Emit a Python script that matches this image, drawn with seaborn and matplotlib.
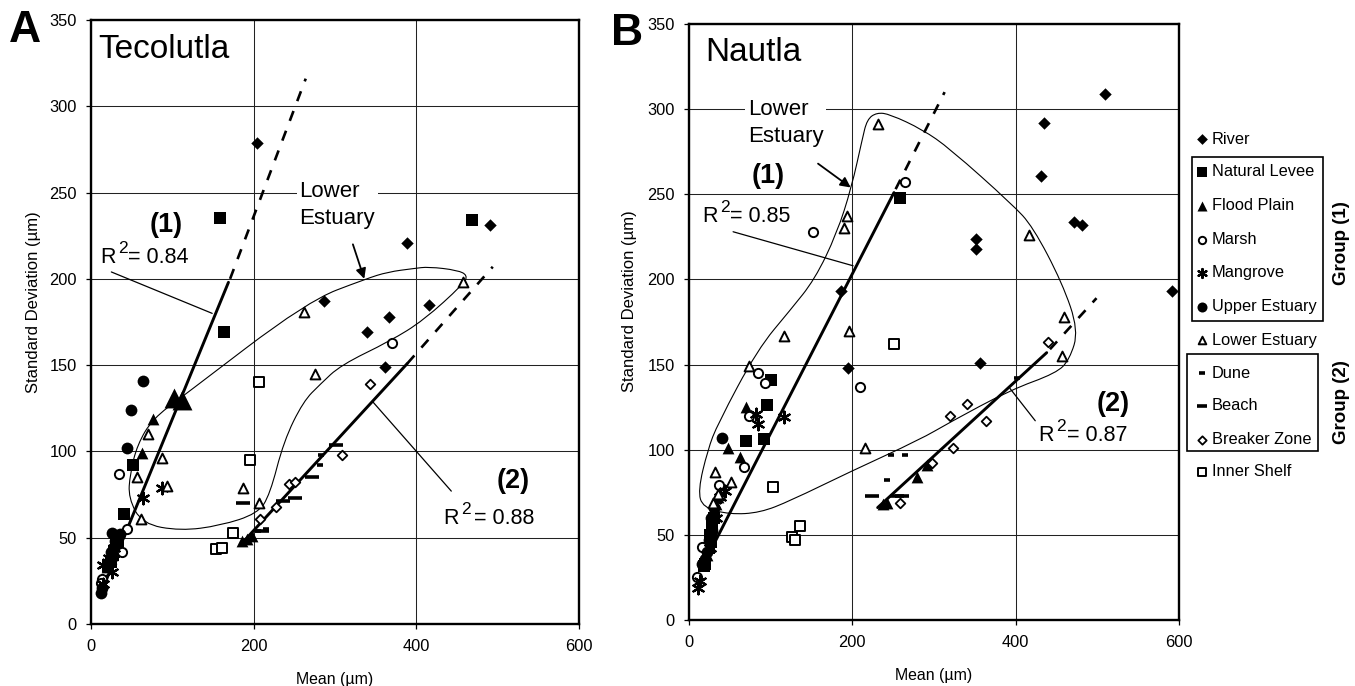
import matplotlib
matplotlib.use("Agg")
import matplotlib.pyplot as plt
import seaborn as sns
from matplotlib.patches import PathPatch, Rectangle
from matplotlib.path import Path

W, H = 1355, 686

# panel A - Tecolutla
a_river_x = [204, 389, 491, 287, 416, 366, 339, 361]
a_river_y = [279, 221, 231, 187, 185, 178, 169, 149]
a_levee_x = [158, 469, 163, 52, 41, 31, 33, 27, 28, 25]
a_levee_y = [235, 234, 169, 92, 64, 46, 48, 40, 42, 36]
a_flood_x = [76, 63, 29, 32, 26, 24, 20, 186, 192, 198]
a_flood_y = [119, 99, 43, 48, 40, 38, 33, 48, 49, 51]
a_flood_big_x = [102, 112]
a_flood_big_y = [131, 130]
a_marsh_x = [35, 44, 38, 13, 12, 370]
a_marsh_y = [87, 55, 42, 26, 24, 163]
a_mangrove_x = [64, 87, 15, 26, 15, 22, 28]
a_mangrove_y = [73, 79, 34, 30, 23, 38, 44]
a_upper_x = [64, 49, 44, 26, 36, 30, 24, 22, 12, 13]
a_upper_y = [141, 124, 102, 53, 52, 48, 42, 36, 18, 21]
a_lower_x = [262, 276, 457, 70, 87, 93, 56, 61, 187, 207]
a_lower_y = [181, 145, 198, 110, 96, 80, 85, 61, 79, 70]
a_dune_x = [205, 215, 283, 281]
a_dune_y = [54, 55, 98, 92]
a_beach_x = [187, 210, 236, 251, 272, 301]
a_beach_y = [70, 54, 71, 73, 85, 104]
a_breaker_x = [208, 228, 243, 251, 309, 343]
a_breaker_y = [61, 68, 81, 82, 98, 139]
a_shelf_x = [206, 195, 175, 154, 161]
a_shelf_y = [140, 95, 53, 43.5, 44]

# panel B - Nautla
b_river_x = [509, 435, 431, 472, 481, 351, 352, 592, 356, 186, 195]
b_river_y = [309, 292, 261, 234, 232, 224, 218, 193, 151, 193, 148]
b_levee_x = [258, 100, 95, 70, 92, 30, 26, 28, 27, 24, 20, 18]
b_levee_y = [248, 141, 126, 105, 106, 60, 50, 56, 46, 42, 33, 32]
b_flood_x = [70, 48, 62, 30, 33, 35, 28, 27, 24, 22, 237, 243, 279, 292]
b_flood_y = [125, 101, 96, 62, 68, 72, 57, 53, 45, 38, 68, 69, 84, 91]
b_marsh_x = [265, 152, 209, 84, 93, 73, 67, 37, 16, 10]
b_marsh_y = [257, 228, 137, 145, 139, 120, 90, 79, 43, 25]
b_mangrove_x = [116, 82, 84, 44, 38, 33, 26, 11, 14]
b_mangrove_y = [119, 121, 115, 76, 72, 60, 42, 19, 23]
b_upper_x = [41, 30, 27, 28, 25, 22, 20, 16]
b_upper_y = [107, 66, 60, 52, 47, 40, 36, 33]
b_lower_x = [232, 193, 190, 196, 116, 416, 459, 457, 73, 215, 32, 52, 29, 36]
b_lower_y = [291, 237, 230, 170, 167, 226, 178, 155, 149, 101, 87, 81, 69, 74]
b_dune_x = [247, 264, 242, 402]
b_dune_y = [97, 97, 82, 142]
b_beach_x = [224, 261, 255]
b_beach_y = [73, 73, 73]
b_breaker_x = [258, 298, 323, 319, 341, 364, 440]
b_breaker_y = [69, 92, 101, 120, 127, 117, 163]
b_shelf_x = [251, 103, 136, 126, 130]
b_shelf_y = [162, 78, 55, 49, 47]

# regression lines, solid part then dashed part
a_fit1_x = [14, 169]
a_fit1_y = [20, 198]
a_fit1_dash_x = [171, 264]
a_fit1_dash_y = [200, 316]
a_fit2_x = [186, 389]
a_fit2_y = [47, 151]
a_fit2_dash_x = [389, 494]
a_fit2_dash_y = [151, 207]
b_fit1_x = [17, 251]
b_fit1_y = [32, 251]
b_fit1_dash_x = [253, 313]
b_fit1_dash_y = [253, 310]
b_fit2_x = [231, 438]
b_fit2_y = [66, 157]
b_fit2_dash_x = [442, 499]
b_fit2_dash_y = [159, 189]

# hand drawn lower estuary outlines
a_loop_x = [463, 451, 415, 397, 365, 338, 266, 113, 76, 57, 48, 46, 63, 110, 159, 205, 220, 237, 261, 282, 307, 368, 409, 458]
a_loop_y = [202, 205, 207, 206, 204, 200, 187, 132, 119, 104, 87, 73, 58, 54, 57, 64, 75, 106, 129, 139, 150, 164, 176, 197]
b_loop_x = [84, 35, 23, 11, 17, 50, 87, 124, 197, 283, 319, 393, 450, 466, 477, 457, 421, 396, 319, 286, 246, 230, 218, 212, 199, 181, 154, 124]
b_loop_y = [159, 115, 100, 76, 66, 62, 63, 70, 87, 106, 116, 135, 145, 153, 170, 198, 231, 244, 277, 288, 297, 298, 294, 282, 254, 227, 200, 182]

legend_names = ["River", "Natural Levee", "Flood Plain", "Marsh", "Mangrove", "Upper Estuary",
                "Lower Estuary", "Dune", "Beach", "Breaker Zone", "Inner Shelf"]
x_ticks = [0, 200, 400, 600]
y_ticks = [0, 50, 100, 150, 200, 250, 300, 350]

# site -> marker, size, filled, edge width
site_styles = {
    "River": ("D", 40, True, 0),
    "Natural Levee": ("s", 80, True, 0),
    "Flood Plain": ("^", 72, True, 0),
    "Marsh": ("o", 44, False, 1.4),
    "Mangrove": ((6, 2, 0), 70, True, 1.6),
    "Upper Estuary": ("o", 72, True, 0),
    "Lower Estuary": ("^", 50, False, 1.4),
    "Dune": ("_", 25, True, 2.6),
    "Beach": ("_", 100, True, 2.6),
    "Breaker Zone": ("D", 24, False, 1.3),
    "Inner Shelf": ("s", 55, False, 1.4),
}

sns.set_theme(style="white")
plt.rcParams['font.family'] = ['Liberation Sans', 'DejaVu Sans']
plt.rcParams['axes.edgecolor'] = 'black'
plt.rcParams['text.color'] = 'black'
plt.rcParams['axes.labelcolor'] = 'black'
plt.rcParams['xtick.color'] = 'black'
plt.rcParams['ytick.color'] = 'black'


def draw_site(ax, name, x, y, size=None):
    marker, s, filled, lw = site_styles[name]
    s = size if size else s
    face = 'black' if filled else 'white'
    sns.scatterplot(x=x, y=y, ax=ax, marker=marker, s=s, color=face, edgecolor='black',
                    linewidth=lw, zorder=4, clip_on=False, legend=False)


def draw_loop(ax, xs, ys):
    # closed smooth outline, the points act as bezier controls
    pts = list(zip(xs, ys))
    mid = lambda p, q: ((p[0] + q[0]) / 2, (p[1] + q[1]) / 2)
    verts = [mid(pts[-1], pts[0])]
    codes = [Path.MOVETO]
    for i, p in enumerate(pts):
        verts += [p, mid(p, pts[(i + 1) % len(pts)])]
        codes += [Path.CURVE3, Path.CURVE3]
    ax.add_patch(PathPatch(Path(verts, codes), fill=False, lw=0.8, ec='black', zorder=3))


def draw_fit(ax, x, y, dash_x, dash_y):
    sns.lineplot(x=x, y=y, ax=ax, color='black', lw=2.1, zorder=3, estimator=None, sort=False)
    sns.lineplot(x=dash_x, y=dash_y, ax=ax, color='black', lw=1.9, zorder=3, estimator=None, sort=False,
                 linestyle=(0, (4, 4)))


def draw_r2(ax, x, y, value, gap=28):
    ax.text(x, y, "R", fontsize=15.5, va='baseline', zorder=5)
    ax.annotate("2", (x, y), xytext=(18, 10), textcoords='offset pixels', fontsize=12.5, va='baseline', zorder=5)
    ax.annotate("= " + value, (x, y), xytext=(gap, 0), textcoords='offset pixels', fontsize=15.5, va='baseline', zorder=5)


def setup_axes(px_left, px_right, px_top, px_bottom, label_x, label_y):
    ax = fig.add_axes([px_left / W, 1 - px_bottom / H, (px_right - px_left) / W, (px_bottom - px_top) / H])
    ax.set_xlim(0, 600)
    ax.set_ylim(0, 350)
    ax.set_xticks(x_ticks)
    ax.set_yticks(y_ticks)
    ax.grid(True, color='#222222', lw=0.75)
    ax.set_axisbelow(True)
    ax.tick_params(axis='y', labelsize=11.8, length=3.6, width=0.9, left=True, pad=6.5)
    ax.tick_params(axis='x', labelsize=11.8, length=3.6, width=0.9, bottom=True, pad=7)
    for side in ax.spines:
        ax.spines[side].set_visible(True)
        ax.spines[side].set_linewidth(1.7)
    ax.set_xlabel("Mean (µm)", fontsize=11.4, labelpad=13)
    ax.set_ylabel("Standard Deviation (µm)", fontsize=12)
    ax.yaxis.set_label_coords(label_x, label_y)
    return ax


fig = plt.figure(figsize=(W / 100, H / 100), dpi=100)

ax_a = setup_axes(91, 579, 20, 624, -0.102, 0.533)
ax_b = setup_axes(689, 1179, 24, 620, -0.106, 0.535)

draw_loop(ax_a, a_loop_x, a_loop_y)
draw_loop(ax_b, b_loop_x, b_loop_y)
draw_fit(ax_a, a_fit1_x, a_fit1_y, a_fit1_dash_x, a_fit1_dash_y)
draw_fit(ax_a, a_fit2_x, a_fit2_y, a_fit2_dash_x, a_fit2_dash_y)
draw_fit(ax_b, b_fit1_x, b_fit1_y, b_fit1_dash_x, b_fit1_dash_y)
draw_fit(ax_b, b_fit2_x, b_fit2_y, b_fit2_dash_x, b_fit2_dash_y)

draw_site(ax_a, "River", a_river_x, a_river_y)
draw_site(ax_a, "Natural Levee", a_levee_x, a_levee_y)
draw_site(ax_a, "Flood Plain", a_flood_x, a_flood_y)
draw_site(ax_a, "Flood Plain", a_flood_big_x, a_flood_big_y, size=205)
draw_site(ax_a, "Marsh", a_marsh_x, a_marsh_y)
draw_site(ax_a, "Mangrove", a_mangrove_x, a_mangrove_y)
draw_site(ax_a, "Upper Estuary", a_upper_x, a_upper_y)
draw_site(ax_a, "Lower Estuary", a_lower_x, a_lower_y)
draw_site(ax_a, "Dune", a_dune_x, a_dune_y)
draw_site(ax_a, "Beach", a_beach_x, a_beach_y)
draw_site(ax_a, "Breaker Zone", a_breaker_x, a_breaker_y)
draw_site(ax_a, "Inner Shelf", a_shelf_x, a_shelf_y)

draw_site(ax_b, "River", b_river_x, b_river_y)
draw_site(ax_b, "Natural Levee", b_levee_x, b_levee_y)
draw_site(ax_b, "Flood Plain", b_flood_x, b_flood_y)
draw_site(ax_b, "Marsh", b_marsh_x, b_marsh_y)
draw_site(ax_b, "Mangrove", b_mangrove_x, b_mangrove_y)
draw_site(ax_b, "Upper Estuary", b_upper_x, b_upper_y)
draw_site(ax_b, "Lower Estuary", b_lower_x, b_lower_y)
draw_site(ax_b, "Dune", b_dune_x, b_dune_y)
draw_site(ax_b, "Beach", b_beach_x, b_beach_y)
draw_site(ax_b, "Breaker Zone", b_breaker_x, b_breaker_y)
draw_site(ax_b, "Inner Shelf", b_shelf_x, b_shelf_y)

# panel A labels
white_box = dict(fc='white', ec='none', pad=2)
ax_a.text(9, 328, "Tecolutla", fontsize=24, zorder=5)
ax_a.text(256, 243, "Lower\nEstuary", fontsize=16, linespacing=1.38, va='center', zorder=2, bbox=white_box)
ax_a.text(93, 231, "(1)", fontsize=19.5, fontweight='bold', ha='center', va='center', zorder=5)
ax_a.text(519, 83, "(2)", fontsize=19.5, fontweight='bold', ha='center', va='center', zorder=5)
draw_r2(ax_a, 11, 209, "0.84")
draw_r2(ax_a, 433, 58, "0.88", gap=31)
ax_a.plot([25, 149], [204, 180], color='black', lw=0.9, zorder=3)
ax_a.plot([346, 443], [129, 77], color='black', lw=0.9, zorder=3)
ax_a.annotate("", xy=(336, 200), xytext=(322, 220), zorder=5,
              arrowprops=dict(arrowstyle='-|>', color='black', lw=1.3, mutation_scale=15, shrinkA=0, shrinkB=0))

# panel B labels
ax_b.text(20, 328, "Nautla", fontsize=24, zorder=5)
ax_b.text(72, 292, "Lower\nEstuary", fontsize=16, linespacing=1.38, va='center', zorder=2, bbox=white_box)
ax_b.text(97, 261, "(1)", fontsize=19.5, fontweight='bold', ha='center', va='center', zorder=5)
ax_b.text(519, 127, "(2)", fontsize=19.5, fontweight='bold', ha='center', va='center', zorder=5)
draw_r2(ax_b, 16, 234, "0.85")
draw_r2(ax_b, 428, 105, "0.87")
ax_b.plot([54, 201], [228, 208], color='black', lw=0.9, zorder=3)
ax_b.plot([393, 424], [136, 117], color='black', lw=0.9, zorder=3)
ax_b.annotate("", xy=(198, 254), xytext=(158, 268), zorder=5,
              arrowprops=dict(arrowstyle='-|>', color='black', lw=1.3, mutation_scale=15, shrinkA=0, shrinkB=0))

# overlay in pixel coordinates for panel letters and the legend
over = fig.add_axes([0, 0, 1, 1], facecolor='none')
over.set_xlim(0, W)
over.set_ylim(H, 0)
over.axis('off')
over.text(9, 42, "A", fontsize=32, fontweight='bold', va='baseline')
over.text(611, 45, "B", fontsize=32, fontweight='bold', va='baseline')

legend_y = [139, 172, 206, 240, 273, 307, 340, 373, 406, 440, 472]
legend_sizes = [30, 62, 52, 28, 42, 52, 30, 16, 62, 18, 36]
for name, ly, s in zip(legend_names, legend_y, legend_sizes):
    marker, _, filled, lw = site_styles[name]
    sns.scatterplot(x=[1202], y=[ly], ax=over, marker=marker, s=s, color='black' if filled else 'white',
                    edgecolor='black', linewidth=lw, zorder=4, legend=False)
    over.text(1212, ly, name, fontsize=11.8, va='center')
over.set_xlim(0, W)
over.set_ylim(H, 0)
over.add_patch(Rectangle((1192, 157), 131, 164, fill=False, ec='black', lw=1.2))
over.add_patch(Rectangle((1187, 354), 131, 97, fill=False, ec='black', lw=1.2))
over.text(1342, 243, "Group (1)", fontsize=13.5, fontweight='bold', rotation=90, ha='center', va='center')
over.text(1342, 402, "Group (2)", fontsize=13.5, fontweight='bold', rotation=90, ha='center', va='center')

fig.savefig("out.png", dpi=100)
